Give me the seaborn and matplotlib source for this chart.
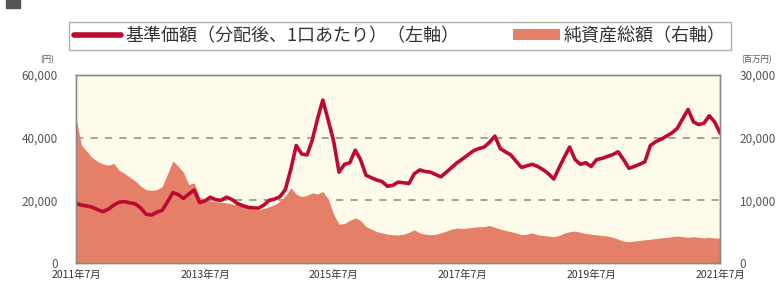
import matplotlib
matplotlib.use("Agg")
import matplotlib.pyplot as plt
from matplotlib.lines import Line2D
from matplotlib.patches import Patch, Rectangle
import seaborn as sns
import pandas as pd

# ---- data (monthly, 2011-07 .. 2021-07) ----
start_month = "2011-07-01"
nav = [19000, 18500, 18200, 17800, 17000, 16400, 17200, 18500, 19400, 19600,
       19200, 18900, 17600, 15600, 15300, 16200, 16800, 19500, 22500, 21800,
       20600, 22000, 23300, 19300, 19800, 21000, 20200, 20000, 21000, 20300,
       19000, 18300, 17800, 17600, 17500, 18500, 20000, 20400, 21200, 23500,
       30000, 37500, 34800, 34500, 39000, 46000, 52000, 45500, 39000, 29000,
       31500, 32000, 36000, 33000, 28000, 27200, 26500, 26000, 24500, 24800,
       25800, 25600, 25400, 28500, 29700, 29200, 29000, 28200, 27500, 29000,
       30500, 32000, 33200, 34500, 35800, 36500, 37000, 38500, 40500, 36500,
       35500, 34500, 32500, 30500, 31000, 31500, 30800, 29800, 28500, 26800,
       30500, 34000, 37000, 33000, 31500, 32000, 30800, 33000, 33400, 34000,
       34600, 35500, 33000, 30200, 30800, 31500, 32300, 37500, 38700, 39500,
       40500, 41500, 43000, 46000, 49000, 45000, 44200, 44600, 47000, 45000,
       41500]
assets = [23000, 18800, 17800, 16800, 16200, 15800, 15600, 15900, 14800, 14300,
          13700, 13100, 12300, 11700, 11600, 11700, 12200, 14200, 16300, 15400,
          14500, 12500, 12800, 10500, 10200, 9900, 9800, 9700, 9600, 9400,
          9300, 9000, 8800, 8600, 8500, 8700, 9000, 9300, 9900, 10700,
          12000, 11000, 10600, 10800, 11200, 11000, 11400, 10200, 7800, 6200,
          6300, 6800, 7200, 6800, 5800, 5400, 5000, 4800, 4600, 4500,
          4470, 4600, 4900, 5300, 4800, 4600, 4500, 4600, 4800, 5100,
          5400, 5600, 5500, 5600, 5700, 5800, 5800, 6000, 5700, 5400,
          5200, 5000, 4800, 4500, 4600, 4800, 4500, 4400, 4300, 4200,
          4400, 4800, 5000, 5100, 4900, 4700, 4600, 4500, 4400, 4300,
          4100, 3800, 3500, 3400, 3500, 3600, 3700, 3800, 3900, 4000,
          4100, 4200, 4300, 4200, 4100, 4200, 4100, 4000, 4100, 4000,
          4000]
x_tick_dates = ["2011-07-01", "2013-07-01", "2015-07-01", "2017-07-01",
                "2019-07-01", "2021-07-01"]
x_tick_labels = ["2011年7月", "2013年7月", "2015年7月", "2017年7月",
                 "2019年7月", "2021年7月"]
left_ticks = [0, 20000, 40000, 60000]
right_ticks = [0, 10000, 20000, 30000]
series_names = ["基準価額（分配後、1口あたり）（左軸）", "純資産総額（右軸）"]

dates = pd.date_range(start_month, periods=len(nav), freq="MS")
df = pd.DataFrame({"date": dates, "nav": nav, "assets": assets})

sns.set_theme(style="white")
plt.rcParams["font.family"] = ["Noto Sans CJK JP", "DejaVu Sans"]

LINE_C = "#BE0A30"
AREA_C = "#E67F68"
BG_C = "#FFFBEA"
TXT_C = "#555555"

W, H = 784, 291
fig = plt.figure(figsize=(W / 100, H / 100), dpi=100)
fig.patch.set_facecolor("white")
ax = fig.add_axes([76 / W, 1 - 263 / H, (720 - 76) / W, (263 - 75) / H])
ax2 = ax.twinx()

ax2.set_zorder(1)
ax.set_zorder(2)
ax.patch.set_visible(False)
ax2.patch.set_visible(True)
ax2.patch.set_facecolor(BG_C)

for v in [10000, 20000]:
    ax2.axhline(v, color="#9a9a9a", lw=1.3, ls=(0, (4, 4)), zorder=0.5)
ax2.fill_between(df["date"], 0, df["assets"], color=AREA_C, lw=0, zorder=1)
ax2.set_ylim(0, 30000)
ax2.set_yticks(right_ticks)
ax2.set_yticklabels([f"{v:,}" for v in right_ticks])

sns.lineplot(data=df, x="date", y="nav", ax=ax, color=LINE_C, linewidth=2.6)
ax.set_ylim(0, 60000)
ax.set_yticks(left_ticks)
ax.set_yticklabels([f"{v:,}" for v in left_ticks])
ax.set_xlim(dates[0], dates[-1])
ax.set_xticks(pd.to_datetime(x_tick_dates))
ax.set_xticklabels(x_tick_labels)
ax.set_xlabel("")
ax.set_ylabel("")
ax2.set_ylabel("")

for a in (ax, ax2):
    for s in a.spines.values():
        s.set_color("#8a8a8a")
        s.set_linewidth(1.0)

ax.tick_params(axis="y", length=0, pad=13, labelsize=8.5, labelcolor=TXT_C)
ax2.tick_params(axis="y", length=0, pad=14, labelsize=8.5, labelcolor=TXT_C)
ax.tick_params(axis="x", length=0, pad=5, labelsize=7.5, labelcolor="#333333")

fig.text(47 / W, 1 - 60 / H, "(円)", fontsize=6, color=TXT_C, ha="center", va="center")
fig.text(757 / W, 1 - 60 / H, "(百万円)", fontsize=6, color=TXT_C, ha="center", va="center")

handles = [Line2D([], [], color=LINE_C, lw=4),
           Patch(facecolor=AREA_C, edgecolor="none")]
leg = fig.legend(handles, series_names, loc="center",
                 bbox_to_anchor=(400 / W, 1 - 36 / H), ncol=2, fontsize=13,
                 frameon=True, fancybox=False, edgecolor="#9a9a9a",
                 handlelength=2.6, handleheight=0.6, handletextpad=0.2,
                 columnspacing=3.0, borderpad=0.3, borderaxespad=0)
leg.get_frame().set_linewidth(1.0)
for t in leg.get_texts():
    t.set_color("#333333")

fig.patches.append(Rectangle((6 / W, 1 - 8 / H), 14 / W, 8 / H,
                             transform=fig.transFigure, color="#555555"))

fig.savefig("out.png", dpi=100)
